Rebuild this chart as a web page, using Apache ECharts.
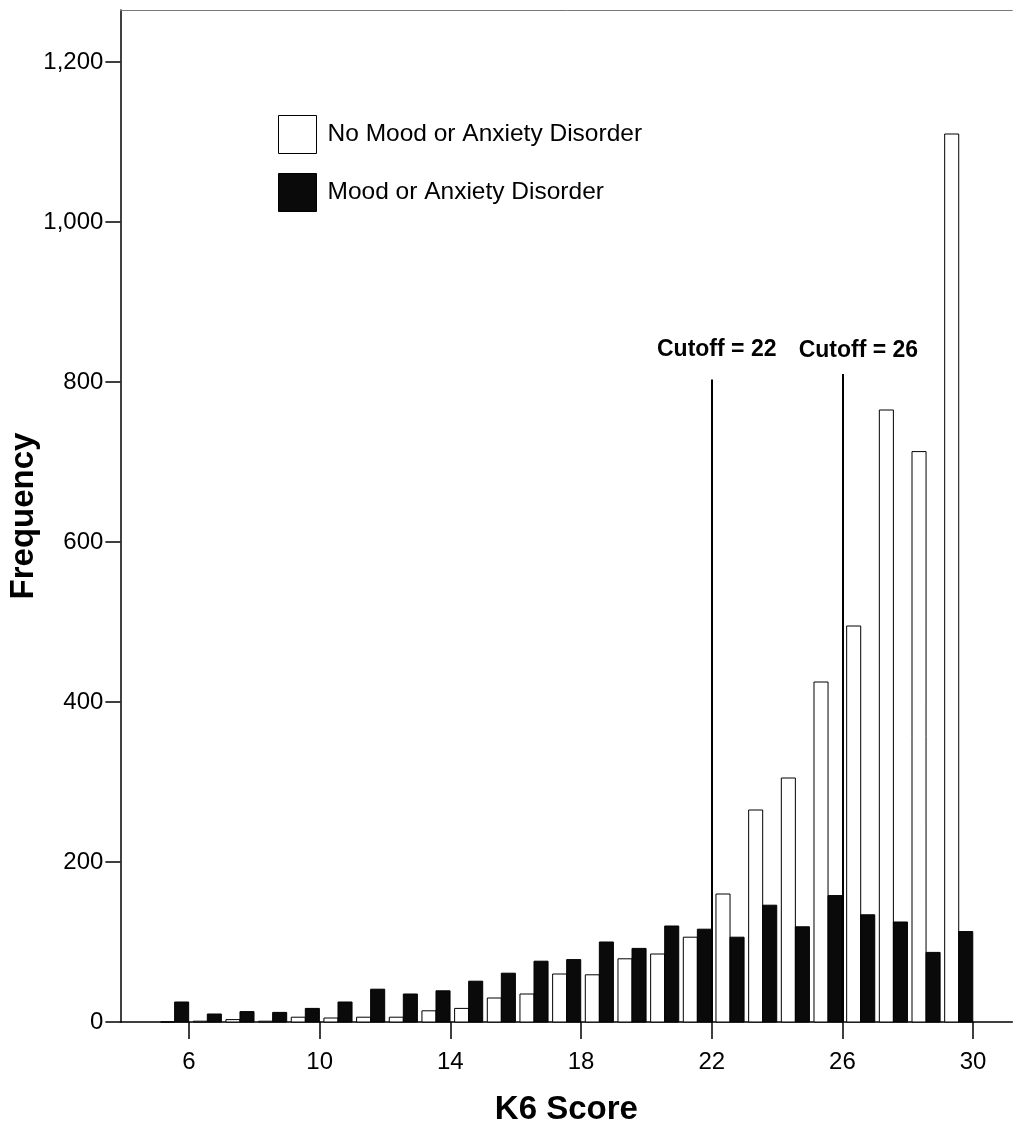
<!DOCTYPE html>
<html><head><meta charset="utf-8">
<script src="https://cdn.jsdelivr.net/npm/echarts@6/dist/echarts.min.js"></script>
<style>html,body{margin:0;padding:0;background:#fff}#c{width:1014px;height:1127px}</style>
</head><body><div id="c"></div>
<script>
// ---- data ----
const scores = [6,7,8,9,10,11,12,13,14,15,16,17,18,19,20,21,22,23,24,25,26,27,28,29,30];
const noDisorder   = [0,1,3,1,6,5,6,6,14,17,30,35,60,59,79,85,106,160,265,305,425,495,765,713,1110];
const moodDisorder = [25,10,13,12,17,25,41,35,39,51,61,76,78,100,92,120,116,106,146,119,158,134,125,87,113];
const xTickValues = [6,10,14,18,22,26,30];
const yTickValues = [0,200,400,600,800,1000,1200];
const cutoffs = [22, 26];
const cutoffTops = [803, 810];
const seriesNames = ['No Mood or Anxiety Disorder', 'Mood or Anxiety Disorder'];

const FONT = "'Liberation Sans', Arial, Helvetica, sans-serif";
const chart = echarts.init(document.getElementById('c'), null, {renderer: 'canvas'});

function barRenderer(fromOff, toOff, fill) {
  return function (params, api) {
    const s = api.value(0), v = api.value(1);
    const p0 = api.coord([s - fromOff, v]);
    const p1 = api.coord([s - toOff, 0]);
    return {
      type: 'rect',
      shape: {x: p0[0], y: p0[1], width: p1[0] - p0[0], height: p1[1] - p0[1]},
      style: {fill: fill, stroke: '#000', lineWidth: 1}
    };
  };
}

const cutoffLabelPad = [[0,0,0,10],[0,0,0,32]];
const cutoffLabelDist = [18, 12];

chart.setOption({
  animation: false,
  backgroundColor: '#fff',
  grid: {left: 120.4, right: 1.7, top: 10, bottom: 105, containLabel: false, outerBoundsMode: 'none'},
  legend: {
    left: 278, top: 115, orient: 'vertical', padding: 0,
    itemWidth: 38, itemHeight: 38, itemGap: 19, icon: 'rect',
    textStyle: {fontSize: 24.5, fontFamily: FONT, color: '#000', padding: [4, 0, 0, 6]},
    data: [
      {name: seriesNames[0], itemStyle: {color: '#fff', borderColor: '#000', borderWidth: 1}},
      {name: seriesNames[1], itemStyle: {color: '#0a0a0a', borderColor: '#000', borderWidth: 1}}
    ]
  },
  xAxis: [{
    type: 'value', min: 3.9, max: 31.2, position: 'bottom',
    axisLine: {show: true, lineStyle: {color: '#000', width: 1.5}},
    axisTick: {show: true, customValues: xTickValues, length: 17, lineStyle: {color: '#000', width: 1.5}},
    axisLabel: {customValues: xTickValues, fontSize: 24, color: '#000', margin: 28, fontFamily: FONT},
    splitLine: {show: false},
    name: 'K6 Score', nameLocation: 'middle', nameGap: 71, nameMoveOverlap: false,
    nameTextStyle: {fontSize: 33, fontWeight: 'bold', fontFamily: FONT, color: '#000'}
  }, {
    type: 'value', min: 3.9, max: 31.2, position: 'top',
    axisLine: {show: true, onZero: false, lineStyle: {color: '#777', width: 1}},
    axisTick: {show: false}, axisLabel: {show: false}, splitLine: {show: false}
  }],
  yAxis: {
    type: 'value', min: 0, max: 1265,
    axisLine: {show: true, lineStyle: {color: '#000', width: 1.5}},
    axisTick: {show: true, customValues: yTickValues, length: 15, lineStyle: {color: '#000', width: 1.5}},
    axisLabel: {customValues: yTickValues, fontSize: 24, color: '#000', margin: 17, fontFamily: FONT,
      formatter: v => Number(v).toLocaleString('en-US')},
    splitLine: {show: false},
    name: 'Frequency', nameLocation: 'middle', nameRotate: 90, nameGap: 80, nameMoveOverlap: false,
    nameTextStyle: {fontSize: 33, fontWeight: 'bold', fontFamily: FONT, color: '#000'}
  },
  series: [{
    name: seriesNames[0], type: 'custom', xAxisIndex: 0,
    itemStyle: {color: '#fff', borderColor: '#000'},
    renderItem: barRenderer(0.87, 0.44, '#fff'),
    encode: {x: 0, y: 1},
    data: scores.map((s, i) => [s, noDisorder[i]]),
    z: 2
  }, {
    name: seriesNames[1], type: 'custom', xAxisIndex: 0,
    itemStyle: {color: '#0a0a0a', borderColor: '#000'},
    renderItem: barRenderer(0.44, 0.01, '#0a0a0a'),
    encode: {x: 0, y: 1},
    data: scores.map((s, i) => [s, moodDisorder[i]]),
    z: 3,
    markLine: {
      silent: true, symbol: 'none', animation: false,
      lineStyle: {color: '#000', width: 2, type: 'solid'},
      data: cutoffs.map((c, i) => [
        {coord: [c, 0]},
        {coord: [c, cutoffTops[i]],
         label: {show: true, position: 'end', distance: cutoffLabelDist[i], formatter: 'Cutoff = ' + c,
           fontSize: 23, fontWeight: 'bold', fontFamily: FONT, color: '#000', padding: cutoffLabelPad[i]}}
      ])
    }
  }]
});
</script>
</body></html>
